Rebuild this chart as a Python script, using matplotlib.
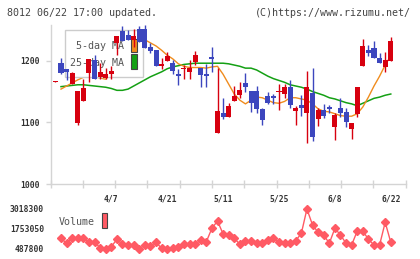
import numpy as np
import matplotlib
matplotlib.use("Agg")
import matplotlib.pyplot as plt
from matplotlib.patches import Rectangle

# ---------------- data ----------------
opens  = [1165,1196,1187,1163,1099,1135,1180,1201,1174,1172,1178,1228,1248,1242,1234,1251,1251,1223,1217,1192,
          1200,1197,1178,1187,1182,1198,1189,1178,1206,1082,1115,1109,1135,1145,1164,1151,1151,1122,1143,1143,
          1149,1146,1158,1118,1128,1115,1148,1106,1120,1125,1093,1123,1117,1089,1114,1191,1218,1220,1205,1190,1200]
highs  = [1167,1205,1187,1182,1151,1171,1203,1210,1196,1189,1191,1240,1256,1250,1251,1256,1258,1228,1217,1205,
          1214,1201,1186,1193,1201,1216,1189,1194,1223,1188,1139,1132,1159,1166,1180,1151,1159,1124,1150,1146,
          1162,1163,1169,1127,1144,1184,1188,1124,1130,1128,1115,1139,1123,1099,1158,1236,1225,1232,1212,1215,1239]
lows   = [1165,1178,1168,1163,1096,1135,1166,1171,1170,1170,1170,1210,1232,1234,1223,1231,1221,1212,1192,1186,
          1200,1178,1161,1170,1171,1193,1158,1158,1182,1082,1105,1108,1134,1139,1150,1117,1116,1095,1130,1130,
          1120,1139,1124,1096,1110,1067,1070,1094,1107,1116,1071,1108,1092,1073,1109,1191,1208,1204,1197,1182,1200]
closes = [1167,1180,1181,1180,1151,1155,1203,1171,1181,1178,1184,1240,1232,1234,1240,1231,1221,1216,1192,1195,
          1208,1184,1175,1189,1188,1210,1177,1176,1203,1119,1108,1127,1143,1152,1158,1132,1121,1104,1132,1140,
          1151,1158,1128,1124,1124,1158,1077,1120,1110,1122,1112,1115,1100,1099,1158,1224,1212,1204,1197,1201,1232]

# moving averages (start at the 2nd candle)
ma5 = [1154,1159,1164,1169,1173,1174,1174,1172,1170,1180,1190,1203,1214,1226,1233,1234,1229,1224,1217,1209,
       1203,1195,1191,1189,1189,1189,1188,1190,1191,1178,1162,1146,1136,1130,1136,1141,1140,1136,1132,1131,
       1134,1140,1140,1138,1136,1130,1122,1118,1117,1114,1111,1110,1110,1114,1125,1141,1159,1175,1193,1208]
ma25 = [1158,1159,1160,1161,1161,1160,1159,1158,1157,1155,1152,1152,1154,1159,1164,1169,1174,1178,1182,1187,
        1190,1192,1194,1195,1196,1196,1196,1196,1196,1196,1195,1193,1191,1188,1188,1185,1180,1175,1171,1168,
        1165,1161,1159,1157,1154,1150,1147,1144,1140,1138,1135,1132,1130,1127,1131,1135,1139,1141,1144,1146]

volume = [1165000,848000,1184000,1203000,1184000,912000,912000,570000,510000,633000,1101000,785000,741000,741000,
          495000,741000,678000,912000,532000,487800,570000,633000,804000,785000,785000,1057000,950000,1797000,
          2259000,1437000,1342000,1165000,785000,994000,994000,848000,848000,1057000,1203000,912000,848000,
          848000,1013000,1481000,3018300,2006000,1544000,1373000,848000,1797000,1373000,848000,741000,1626000,
          1626000,1101000,741000,741000,2177000,912000]

date_labels = ["4/7", "4/21", "5/11", "5/25", "6/8", "6/22"]
date_label_idx = [10, 20, 30, 40, 50, 60]
price_ticks = [1000, 1100, 1200]

# ---------------- style ----------------
W, H = 420, 259
RED = "#d7000f"
BLUE = "#3c46be"
ORANGE = "#f08c1e"
GREEN = "#14a014"
VOLC = "#ff5a64"
AXC = "#d4d4d4"
TXT = "#444444"
MONO = "DejaVu Sans Mono"

fig = plt.figure(figsize=(W / 100, H / 100), dpi=100)

def fx(px):
    return px / W

def fy(py):
    return 1 - py / H

n = len(opens)
x = np.arange(n)
xl = (-0.88, 62.67)

# ---------------- main price axes ----------------
ax = fig.add_axes([fx(50.5), fy(184), fx(405.7) - fx(50.5), fy(25) - fy(184)])
ax.set_xlim(*xl)
ax.set_ylim(1000, 1258)
ax.set_facecolor("none")
for s in ["top", "right"]:
    ax.spines[s].set_visible(False)
for s in ["left", "bottom"]:
    ax.spines[s].set_color(AXC)
    ax.spines[s].set_linewidth(1.0)

ax.set_yticks(price_ticks)
ax.set_yticklabels([str(v) for v in price_ticks])
ax.tick_params(axis="y", length=3.6, width=1.0, color=AXC, pad=4.3,
               labelsize=5.8, labelcolor="#333333")
for lab in ax.get_yticklabels():
    lab.set_family(MONO)
    lab.set_fontweight("bold")

# evenly spaced gray tick marks on x axis, date labels as minor ticks
ax.set_xticks(np.linspace(xl[0], xl[1], 12))
ax.set_xticklabels([])
ax.tick_params(axis="x", which="major", direction="inout", length=5.8, width=1.0, color=AXC)
ax.set_xticks(date_label_idx, minor=True)
ax.set_xticklabels(date_labels, minor=True)
ax.tick_params(axis="x", which="minor", length=0, pad=7.5, labelsize=5.8, labelcolor="#333333")
for lab in ax.get_xticklabels(minor=True):
    lab.set_family(MONO)
    lab.set_fontweight("bold")

# moving averages
ax.plot(x[1:], ma25, color=GREEN, lw=1.1, zorder=2)
ax.plot(x[1:], ma5, color=ORANGE, lw=1.0, zorder=2)

# legend box (drawn over lines, under candles)
lb = Rectangle((fx(65), fy(77.3)), fx(143.3) - fx(65), fy(30) - fy(77.3), transform=fig.transFigure,
               facecolor="white", edgecolor="#cccccc", lw=1.0, zorder=3, clip_on=False)
ax.add_patch(lb)
ax.text(fx(124.5), fy(46), "5-day MA", transform=fig.transFigure, ha="right", va="center",
        fontsize=7.2, family=MONO, color="#555555", zorder=3.5)
ax.text(fx(124.5), fy(62.7), "25-day MA", transform=fig.transFigure, ha="right", va="center",
        fontsize=7.2, family=MONO, color="#555555", zorder=3.5)
ax.add_patch(Rectangle((fx(131), fy(52.3)), fx(137.3) - fx(131), fy(39.3) - fy(52.3),
                       transform=fig.transFigure, facecolor=ORANGE, edgecolor="#444444", lw=0.8,
                       zorder=3.5, clip_on=False))
ax.add_patch(Rectangle((fx(131), fy(69.3)), fx(137.3) - fx(131), fy(54.3) - fy(69.3),
                       transform=fig.transFigure, facecolor=GREEN, edgecolor="#444444", lw=0.8,
                       zorder=3.5, clip_on=False))

# candles
o = np.array(opens, float); c = np.array(closes, float)
h = np.array(highs, float); l = np.array(lows, float)
cols = [RED if cc >= oo else BLUE for oo, cc in zip(o, c)]
ax.vlines(x, l, h, colors=cols, lw=1.0, zorder=4)
bottoms = np.minimum(o, c)
heights = np.maximum(np.abs(c - o), 1.6)
ax.bar(x, heights, bottom=bottoms, width=0.9, color=cols, linewidth=0, zorder=5)

# ---------------- volume axes ----------------
vax = fig.add_axes([fx(50.5), fy(253), fx(405.7) - fx(50.5), fy(205) - fy(253)])
vax.set_xlim(*xl)
vmin, vmax = min(volume), max(volume)
per_px = (vmax - vmin) / 40.0
vax.set_ylim(vmin - 4 * per_px, vmax + 4 * per_px)
for s in vax.spines.values():
    s.set_visible(False)
vax.set_facecolor("none")
vax.set_xticks([])
vt = [vmin, (vmin + vmax) / 2, vmax]
vax.set_yticks(vt)
vax.set_yticklabels([str(int(round(v))) for v in vt])
vax.tick_params(axis="y", length=0, pad=4.6, labelsize=5.8, labelcolor="#333333")
for lab in vax.get_yticklabels():
    lab.set_family(MONO)
    lab.set_fontweight("bold")
vax.plot(x[1:], volume, color=VOLC, lw=1.0, marker="D", ms=4.0, mec=VOLC, mfc=VOLC, zorder=3)

fig.text(fx(94.5), fy(222.3), "Volume", ha="right", va="center", fontsize=7.2, family=MONO, color="#555555")
fig.patches.append(Rectangle((fx(101.7), fy(228.3)), fx(107.3) - fx(101.7), fy(212.7) - fy(228.3),
                             transform=fig.transFigure, facecolor=VOLC, edgecolor="#444444", lw=0.8))

# ---------------- header ----------------
fig.text(fx(7), fy(12.7), "8012 06/22 17:00 updated.", ha="left", va="center", fontsize=7.2,
         family=MONO, color=TXT)
fig.text(fx(411), fy(12.7), "(C)https://www.rizumu.net/", ha="right", va="center", fontsize=7.2,
         family=MONO, color=TXT)

fig.savefig("out.png", dpi=100)
